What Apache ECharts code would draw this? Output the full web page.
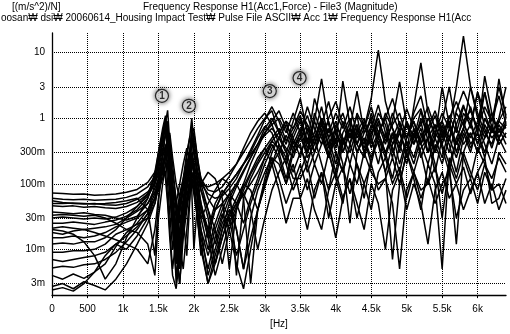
<!DOCTYPE html>
<html>
<head>
<meta charset="utf-8">
<script src="https://cdn.jsdelivr.net/npm/echarts@6/dist/echarts.min.js"></script>
<style>
  html, body { margin: 0; padding: 0; background: #fff; }
  #chart { width: 510px; height: 334px; }
</style>
</head>
<body>
<div id="chart"></div>
<script>
// frequency grid [Hz], shared by every measured curve
const freqHz = [
  0, 150, 300, 450, 600, 750, 900, 1050, 1200, 1350, 1450,
  1500, 1560, 1600, 1630, 1660, 1700, 1750, 1800, 1850, 1900, 1940, 1970, 2000, 2050,
  2100, 2200, 2300, 2400, 2500, 2600, 2700, 2800, 2900, 3000, 3100, 3200, 3300, 3400,
  3500, 3600, 3700, 3800, 3900, 4000, 4100, 4200, 4300, 4400, 4500, 4600, 4700, 4800, 4900,
  5000, 5100, 5200, 5300, 5400, 5500, 5600, 5700, 5800, 5900, 6000, 6100, 6200, 6300, 6400
];

// |H1| [(m/s^2)/N], one array per impact point
const c1 = [0.072, 0.071, 0.069, 0.070, 0.067, 0.068, 0.070, 0.074, 0.082, 0.105, 0.15,
  0.21, 0.42, 0.85, 1.32, 0.42, 0.14, 0.06, 0.025, 0.06, 0.15, 0.28, 0.45, 0.3, 0.16,
  0.1, 0.07, 0.06, 0.065, 0.085, 0.12, 0.2, 0.33, 0.55, 0.95, 1.5, 0.9, 0.45, 0.7,
  1.1, 0.45, 0.9, 4.0, 0.8, 0.35, 0.9, 0.5, 1.1, 0.3, 0.7, 1.6, 0.6, 0.25, 0.8,
  0.5, 1.2, 2.2, 0.7, 0.3, 0.8, 0.45, 1.3, 2.6, 1.4, 0.6, 2.5, 0.9, 2.2, 0.8];
const c2 = [0.060, 0.058, 0.057, 0.058, 0.056, 0.057, 0.058, 0.062, 0.070, 0.09, 0.13,
  0.2, 0.5, 0.9, 0.35, 0.09, 0.03, 0.012, 0.04, 0.1, 0.25, 0.5, 1.0, 0.45, 0.2,
  0.12, 0.08, 0.075, 0.09, 0.13, 0.2, 0.35, 0.6, 0.9, 1.2, 0.8, 0.4, 0.25, 0.5,
  0.9, 0.35, 0.6, 1.5, 0.5, 0.2, 0.6, 1.0, 0.4, 0.7, 2.0, 11, 1.8, 0.7, 0.3,
  0.9, 0.5, 1.3, 0.45, 0.15, 0.5, 1.1, 0.6, 1.5, 0.9, 0.4, 1.0, 0.6, 0.9, 0.7];
const c3 = [0.055, 0.052, 0.05, 0.049, 0.05, 0.048, 0.047, 0.05, 0.058, 0.075, 0.1,
  0.14, 0.28, 0.55, 0.7, 0.25, 0.07, 0.008, 0.035, 0.08, 0.16, 0.3, 0.6, 0.7, 0.25,
  0.1, 0.04, 0.012, 0.03, 0.06, 0.1, 0.16, 0.25, 0.4, 0.6, 0.9, 1.3, 0.7, 0.35,
  0.6, 1.1, 0.5, 0.8, 1.8, 0.6, 0.3, 0.7, 0.4, 0.9, 0.5, 1.2, 0.8, 0.3, 0.6,
  1.4, 0.7, 0.4, 1.0, 0.6, 1.2, 0.7, 3.0, 18, 3.0, 1.0, 0.5, 1.2, 0.6, 1.0];
const c4 = [0.046, 0.045, 0.046, 0.044, 0.045, 0.043, 0.042, 0.045, 0.052, 0.07, 0.12,
  0.25, 0.6, 1.0, 0.5, 0.15, 0.04, 0.015, 0.005, 0.03, 0.08, 0.15, 0.25, 0.2, 0.12,
  0.08, 0.03, 0.006, 0.02, 0.05, 0.09, 0.15, 0.25, 0.4, 0.7, 1.0, 0.6, 0.9, 0.4,
  0.7, 0.3, 1.2, 0.6, 0.25, 0.8, 0.5, 0.2, 0.6, 1.0, 0.4, 0.9, 0.5, 1.2, 0.6,
  0.3, 1.5, 7.0, 1.2, 0.5, 0.25, 0.7, 0.4, 1.2, 0.8, 2.5, 0.7, 0.35, 0.8, 0.5];
const c5 = [0.037, 0.036, 0.035, 0.036, 0.034, 0.033, 0.03, 0.028, 0.032, 0.05, 0.085,
  0.12, 0.2, 0.3, 0.45, 0.55, 0.06, 0.003, 0.02, 0.05, 0.12, 0.25, 0.8, 0.35, 0.12,
  0.05, 0.015, 0.04, 0.07, 0.1, 0.14, 0.2, 0.3, 0.5, 0.75, 0.6, 0.3, 0.12, 0.35,
  0.5, 0.8, 0.3, 0.6, 0.9, 0.4, 3.7, 0.8, 0.3, 0.5, 0.2, 0.6, 1.0, 0.4, 0.7,
  0.25, 0.5, 0.9, 0.3, 0.6, 0.4, 0.9, 0.3, 0.7, 1.5, 0.6, 4.4, 1.2, 0.5, 0.8];
const c6 = [0.03, 0.031, 0.03, 0.029, 0.03, 0.029, 0.031, 0.036, 0.045, 0.065, 0.1,
  0.16, 0.35, 0.3, 0.1, 0.035, 0.01, 0.03, 0.07, 0.12, 0.2, 0.3, 0.28, 0.15, 0.07,
  0.03, 0.01, 0.025, 0.05, 0.03, 0.008, 0.02, 0.05, 0.1, 0.2, 0.35, 0.5, 0.8, 0.5,
  0.25, 0.7, 0.4, 1.0, 0.5, 0.9, 0.4, 0.7, 2.6, 0.6, 0.9, 0.5, 0.25, 0.6, 0.35,
  0.8, 0.4, 1.0, 0.6, 0.3, 0.7, 0.4, 0.15, 0.5, 0.8, 0.4, 1.0, 0.6, 4.0, 1.0];
const c7 = [0.025, 0.025, 0.026, 0.025, 0.024, 0.026, 0.028, 0.032, 0.04, 0.06, 0.11,
  0.2, 0.4, 0.55, 0.75, 0.3, 0.1, 0.04, 0.015, 0.04, 0.09, 0.2, 0.4, 0.6, 0.25,
  0.12, 0.06, 0.04, 0.05, 0.07, 0.05, 0.025, 0.06, 0.12, 0.25, 0.45, 0.35, 0.2, 0.45,
  0.35, 0.2, 0.5, 0.9, 0.4, 0.7, 0.3, 0.6, 0.4, 0.25, 0.6, 0.8, 0.4, 0.9, 3.6,
  0.8, 0.4, 0.7, 0.3, 0.5, 0.9, 3.0, 0.7, 0.4, 0.6, 0.3, 0.8, 0.5, 0.7, 0.4];
const c8 = [0.021, 0.022, 0.021, 0.02, 0.021, 0.022, 0.024, 0.03, 0.038, 0.05, 0.075,
  0.1, 0.16, 0.25, 0.32, 0.15, 0.05, 0.02, 0.05, 0.1, 0.18, 0.3, 0.5, 0.3, 0.15,
  0.08, 0.04, 0.02, 0.006, 0.02, 0.04, 0.08, 0.14, 0.22, 0.35, 0.5, 0.7, 0.4, 0.9,
  2.0, 0.6, 0.3, 0.8, 0.4, 0.15, 0.5, 0.3, 0.7, 0.4, 1.2, 0.5, 0.3, 0.6, 0.2,
  0.5, 0.9, 0.4, 0.2, 0.5, 3.0, 0.8, 0.4, 0.7, 3.0, 1.2, 0.6, 0.4, 0.9, 1.5];
const c9 = [0.015, 0.015, 0.016, 0.015, 0.016, 0.018, 0.022, 0.026, 0.03, 0.04, 0.06,
  0.08, 0.12, 0.2, 0.18, 0.07, 0.02, 0.006, 0.02, 0.05, 0.1, 0.18, 0.3, 0.22, 0.1,
  0.05, 0.02, 0.006, 0.015, 0.035, 0.06, 0.1, 0.08, 0.04, 0.1, 0.2, 0.3, 0.55, 0.3,
  0.4, 0.15, 0.3, 0.6, 0.25, 0.5, 0.2, 0.025, 0.3, 0.5, 0.25, 0.6, 0.3, 0.12, 0.4,
  0.2, 0.6, 0.3, 0.1, 0.4, 0.2, 0.5, 0.25, 0.6, 0.3, 0.8, 0.4, 0.2, 0.5, 0.3];
const c10 = [0.012, 0.0125, 0.012, 0.013, 0.013, 0.015, 0.02, 0.03, 0.045, 0.07, 0.13,
  0.3, 0.6, 0.9, 0.4, 0.12, 0.03, 0.01, 0.003, 0.02, 0.05, 0.09, 0.15, 0.12, 0.06,
  0.03, 0.05, 0.08, 0.12, 0.15, 0.2, 0.3, 0.45, 0.7, 1.0, 1.3, 0.6, 0.3, 0.15,
  0.3, 0.5, 0.2, 0.4, 0.7, 0.3, 0.15, 0.4, 0.8, 0.3, 0.5, 0.2, 0.6, 0.35, 0.15,
  0.45, 0.25, 0.6, 0.3, 0.8, 0.4, 0.2, 0.012, 0.3, 0.6, 0.3, 0.5, 0.8, 0.4, 0.6];
const c11 = [0.009, 0.009, 0.0095, 0.0095, 0.01, 0.012, 0.017, 0.02, 0.024, 0.03, 0.05,
  0.09, 0.18, 0.25, 0.35, 0.45, 0.2, 0.05, 0.01, 0.04, 0.09, 0.15, 0.22, 0.18, 0.08,
  0.04, 0.015, 0.004, 0.01, 0.025, 0.045, 0.07, 0.04, 0.01, 0.03, 0.08, 0.15, 0.25, 0.12,
  0.12, 0.2, 0.06, 0.15, 0.03, 0.1, 0.18, 0.07, 0.2, 0.1, 0.04, 0.15, 0.25, 0.1, 0.18,
  0.06, 0.15, 0.08, 0.1, 0.18, 0.07, 0.2, 0.1, 0.18, 0.07, 0.15, 0.25, 0.05, 0.06, 0.12];
const c12 = [0.0052, 0.0055, 0.0053, 0.0058, 0.006, 0.007, 0.009, 0.013, 0.02, 0.035, 0.06,
  0.1, 0.2, 0.15, 0.06, 0.02, 0.005, 0.015, 0.04, 0.08, 0.14, 0.2, 0.25, 0.15, 0.06,
  0.02, 0.004, 0.01, 0.025, 0.04, 0.02, 0.005, 0.015, 0.04, 0.09, 0.2, 0.4, 0.2, 0.08,
  0.15, 0.3, 0.5, 0.2, 0.08, 0.3, 0.15, 0.4, 0.2, 0.06, 0.25, 0.45, 0.15, 0.007, 0.1,
  0.3, 0.15, 0.35, 0.5, 0.2, 0.03, 0.2, 0.45, 0.25, 0.12, 0.35, 0.2, 0.08, 0.3, 0.2];
const c13 = [0.004, 0.0035, 0.0042, 0.0036, 0.0045, 0.006, 0.011, 0.018, 0.025, 0.04, 0.07,
  0.12, 0.25, 0.4, 0.2, 0.07, 0.02, 0.004, 0.01, 0.03, 0.06, 0.1, 0.13, 0.08, 0.03,
  0.01, 0.003, 0.008, 0.02, 0.035, 0.05, 0.07, 0.1, 0.15, 0.25, 0.4, 0.25, 0.1, 0.2,
  0.06, 0.12, 0.04, 0.02, 0.08, 0.15, 0.06, 0.12, 0.03, 0.1, 0.2, 0.08, 0.12, 0.05, 0.005,
  0.08, 0.15, 0.06, 0.12, 0.05, 0.1, 0.15, 0.03, 0.08, 0.12, 0.05, 0.15, 0.08, 0.1, 0.05];
const c14 = [0.0027, 0.003, 0.0025, 0.0032, 0.0028, 0.0024, 0.0035, 0.006, 0.012, 0.025, 0.05,
  0.09, 0.2, 0.3, 0.55, 0.15, 0.04, 0.01, 0.003, 0.015, 0.04, 0.08, 0.15, 0.1, 0.04,
  0.015, 0.005, 0.015, 0.035, 0.02, 0.006, 0.0025, 0.01, 0.04, 0.1, 0.25, 0.12, 0.05, 0.1,
  0.2, 0.08, 0.2, 0.1, 0.3, 0.12, 0.05, 0.2, 0.1, 0.3, 0.15, 0.1, 0.12, 0.25, 0.1,
  0.3, 0.12, 0.04, 0.2, 0.1, 0.005, 0.25, 0.12, 0.3, 0.15, 0.08, 0.2, 0.12, 0.25, 0.15];
const c15 = [0.0024, 0.0026, 0.0023, 0.003, 0.0045, 0.008, 0.012, 0.01, 0.016, 0.03, 0.06,
  0.11, 0.18, 0.12, 0.05, 0.015, 0.004, 0.0025, 0.008, 0.025, 0.05, 0.09, 0.11, 0.07, 0.03,
  0.012, 0.003, 0.006, 0.015, 0.03, 0.05, 0.09, 0.15, 0.25, 0.35, 0.2, 0.08, 0.025, 0.06,
  0.06, 0.02, 0.08, 0.15, 0.05, 0.015, 0.06, 0.12, 0.05, 0.02, 0.1, 0.05, 0.01, 0.08, 0.15,
  0.04, 0.1, 0.05, 0.012, 0.08, 0.15, 0.06, 0.1, 0.04, 0.08, 0.15, 0.05, 0.1, 0.04, 0.08];
const c16 = [0.02, 0.019, 0.017, 0.013, 0.008, 0.0035, 0.006, 0.015, 0.03, 0.06, 0.15,
  0.3, 0.7, 1.1, 0.6, 0.2, 0.06, 0.02, 0.006, 0.025, 0.06, 0.12, 0.2, 0.15, 0.08,
  0.04, 0.02, 0.04, 0.07, 0.1, 0.14, 0.2, 0.28, 0.4, 0.55, 0.7, 0.5, 0.3, 0.6,
  1.0, 0.4, 2.0, 0.9, 0.35, 0.7, 1.2, 0.5, 0.8, 0.3, 0.6, 1.0, 0.45, 0.8, 1.2,
  0.5, 0.9, 0.4, 0.7, 1.3, 0.6, 0.3, 0.8, 1.6, 0.7, 2.5, 1.2, 0.6, 1.0, 3.0];
const c17 = [0.05, 0.05, 0.051, 0.05, 0.049, 0.05, 0.052, 0.055, 0.06, 0.04, 0.008,
  0.05, 0.3, 0.6, 0.9, 0.3, 0.1, 0.05, 0.1, 0.2, 0.35, 0.25, 0.08, 0.01, 0.05,
  0.1, 0.15, 0.12, 0.06, 0.005, 0.04, 0.1, 0.2, 0.35, 0.6, 0.8, 1.0, 0.6, 1.2,
  0.6, 1.5, 0.7, 0.4, 1.0, 1.8, 0.8, 0.4, 1.2, 0.7, 1.5, 0.6, 1.0, 2.0, 0.8,
  0.5, 1.0, 1.4, 0.6, 1.1, 0.5, 1.0, 1.8, 0.9, 1.3, 0.7, 1.5, 0.9, 3.0, 1.1];
const c18 = [0.033, 0.034, 0.033, 0.032, 0.033, 0.03, 0.025, 0.02, 0.018, 0.012, 0.004,
  0.03, 0.1, 0.2, 0.3, 0.6, 0.25, 0.1, 0.06, 0.03, 0.008, 0.05, 0.2, 0.35, 0.15,
  0.1, 0.09, 0.1, 0.12, 0.1, 0.004, 0.06, 0.12, 0.2, 0.3, 0.45, 0.6, 0.9, 0.7,
  1.3, 0.8, 0.5, 1.0, 0.6, 1.2, 0.7, 1.5, 0.6, 0.35, 0.8, 0.5, 1.2, 0.7, 0.4,
  0.9, 0.5, 0.8, 1.5, 0.7, 0.9, 0.5, 1.2, 0.8, 0.5, 0.9, 2.5, 0.7, 0.5, 0.9];
const c19 = [0.018, 0.017, 0.019, 0.02, 0.018, 0.016, 0.014, 0.012, 0.01, 0.006, 0.02,
  0.06, 0.15, 0.35, 0.5, 0.2, 0.08, 0.03, 0.012, 0.005, 0.02, 0.06, 0.12, 0.08, 0.04,
  0.02, 0.008, 0.02, 0.04, 0.07, 0.1, 0.06, 0.003, 0.04, 0.12, 0.3, 0.5, 0.35, 0.25,
  0.5, 0.3, 0.9, 0.5, 0.25, 0.6, 0.4, 0.9, 0.5, 0.8, 0.35, 0.6, 0.3, 0.5, 0.9,
  0.4, 0.2, 0.5, 0.8, 0.3, 0.6, 0.9, 0.4, 0.7, 0.35, 0.6, 0.25, 0.7, 0.4, 0.6];
const c20 = [0.007, 0.0065, 0.007, 0.0075, 0.008, 0.009, 0.012, 0.016, 0.022, 0.035, 0.1,
  0.2, 0.45, 0.7, 0.5, 0.15, 0.05, 0.02, 0.06, 0.12, 0.3, 0.5, 0.35, 0.12, 0.03,
  0.008, 0.02, 0.05, 0.08, 0.06, 0.02, 0.005, 0.03, 0.08, 0.15, 0.25, 0.2, 0.1, 0.3,
  0.6, 0.25, 0.4, 0.7, 0.3, 0.12, 0.4, 0.7, 0.3, 0.6, 1.0, 0.4, 0.15, 0.4, 0.6,
  0.3, 0.7, 0.25, 0.5, 0.8, 0.35, 0.15, 0.5, 0.9, 0.4, 0.6, 0.3, 0.7, 0.5, 0.8];

const curves = [c1, c2, c3, c4, c5, c6, c7, c8, c9, c10,
  c11, c12, c13, c14, c15, c16, c17, c18, c19, c20];

// axis ticks
const xTicks = [0, 500, 1000, 1500, 2000, 2500, 3000, 3500, 4000, 4500, 5000, 5500, 6000];
const xTickLabels = ['0', '500', '1k', '1.5k', '2k', '2.5k', '3k', '3.5k', '4k', '4.5k', '5k', '5.5k', '6k'];
const yTicks = [10, 3, 1, 0.3, 0.1, 0.03, 0.01, 0.003];
const yTickLabels = ['10', '3', '1', '300m', '100m', '30m', '10m', '3m'];

// circled mode numbers
const modeFreq = [1550, 1930, 3070, 3490];
const modeLevel = [2.2, 1.55, 2.6, 4.1];
const modeText = ['1', '2', '3', '4'];

const FONT = 'Liberation Sans, Arial, sans-serif';
const X_MIN = 0, X_MAX = 6400;
const chart = echarts.init(document.getElementById('chart'));

const series = curves.map((c) => ({
  type: 'line',
  data: freqHz.map((f, i) => [f, c[i]]),
  showSymbol: false,
  symbol: 'none',
  lineStyle: { color: '#000', width: 1.5 },
  z: 3,
  silent: true,
}));

series.push({
  type: 'scatter',
  data: modeFreq.map((f, i) => [f, modeLevel[i]]),
  symbol: 'circle',
  symbolSize: 13,
  z: 10,
  itemStyle: {
    color: '#fff',
    borderColor: '#000',
    borderWidth: 1.2,
    shadowBlur: 5,
    shadowColor: 'rgba(0,0,0,0.75)',
  },
  label: {
    show: true,
    position: 'inside',
    formatter: (p) => modeText[p.dataIndex],
    color: '#000',
    fontSize: 10,
    fontWeight: 'bold',
    fontFamily: FONT,
  },
  // y 격자선 + 라벨
  markLine: {
    silent: true,
    z: 1,
    symbol: ['none', 'none'],
    animation: false,
    lineStyle: { type: 'dotted', color: '#000', width: 1 },
    label: {
      position: 'start',
      distance: 7,
      color: '#000',
      fontSize: 10,
      fontFamily: FONT,
    },
    data: yTicks.map((v, i) => [
      { coord: [X_MIN, v], label: { formatter: yTickLabels[i] } },
      { coord: [X_MAX, v] },
    ]),
  },
});

const option = {
  animation: false,
  backgroundColor: '#fff',
  title: [
    {
      text: '[(m/s^2)/N]', left: 12, top: 2, padding: 0,
      textStyle: { fontSize: 10, fontWeight: 'normal', color: '#000', fontFamily: FONT },
    },
    {
      text: 'Frequency Response H1(Acc1,Force) - File3 (Magnitude)', left: 143, top: 2, padding: 0,
      textStyle: { fontSize: 10, fontWeight: 'normal', color: '#000', fontFamily: FONT },
    },
    {
      text: 'oosan₩ dsi₩ 20060614_Housing Impact Test₩ Pulse File ASCII₩ Acc 1₩ Frequency Response H1(Acc',
      left: 1, top: 13, padding: 0,
      textStyle: { fontSize: 10, fontWeight: 'normal', color: '#000', fontFamily: FONT },
    },
  ],
  grid: { left: 52, right: 4, top: 33, bottom: 33 },
  xAxis: {
    type: 'value',
    min: X_MIN,
    max: X_MAX,
    interval: 500,
    name: '[Hz]',
    nameLocation: 'middle',
    nameGap: 16,
    nameTextStyle: { fontSize: 10, color: '#000', fontFamily: FONT },
    axisLine: { lineStyle: { color: '#000', width: 1.3 } },
    axisTick: { show: true, length: 3, lineStyle: { color: '#000' } },
    axisLabel: {
      margin: 9,
      fontSize: 10,
      color: '#000',
      fontFamily: FONT,
      showMaxLabel: false,
      formatter: (v) => {
        const i = xTicks.indexOf(v);
        return i >= 0 ? xTickLabels[i] : '';
      },
    },
    splitLine: {
      show: true,
      showMinLine: false,
      showMaxLine: false,
      lineStyle: { type: 'dotted', color: '#000', width: 1 },
    },
  },
  yAxis: {
    type: 'log',
    logBase: 10,
    min: 0.002,
    max: 20,
    axisLine: { show: true, lineStyle: { color: '#000', width: 1.3 } },
    axisTick: { show: false },
    axisLabel: { show: false },
    splitLine: { show: false },
  },
  series: series,
};

chart.setOption(option);
</script>
</body>
</html>
